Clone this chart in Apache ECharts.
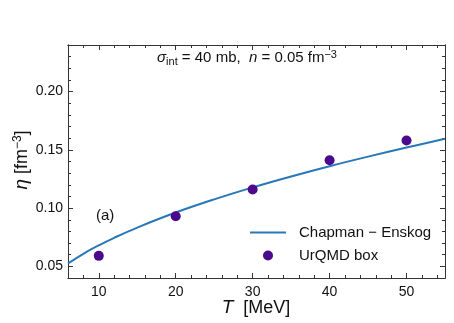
<!DOCTYPE html>
<html>
<head>
<meta charset="utf-8">
<script src="https://cdn.jsdelivr.net/npm/echarts@6/dist/echarts.min.js"></script>
<style>
  html, body { margin: 0; padding: 0; background: #fff; }
  #chart { width: 454px; height: 323px; }
</style>
</head>
<body>
<div id="chart"></div>
<script>
// Chapman-Enskog curve
const ceT = [6, 8, 10, 12, 15, 20, 25, 30, 35, 40, 45, 50, 55];
const ceEta = [0.0525, 0.0608, 0.0680, 0.0745, 0.0833, 0.0962, 0.1075, 0.1178, 0.1272, 0.1360, 0.1442, 0.1520, 0.1595];

// UrQMD box points
const urT = [10, 20, 30, 40, 50];
const urEta = [0.059, 0.093, 0.116, 0.141, 0.158];

// ticks
const xMajor = [10, 20, 30, 40, 50];
const xMinor = [8, 12, 14, 16, 18, 22, 24, 26, 28, 32, 34, 36, 38, 42, 44, 46, 48, 52, 54];
const yMajor = [0.05, 0.10, 0.15, 0.20];
const yMinor = [0.04, 0.06, 0.07, 0.08, 0.09, 0.11, 0.12, 0.13, 0.14, 0.16, 0.17, 0.18, 0.19, 0.21, 0.22, 0.23, 0.24];

const FONT = "Liberation Sans";
const AX = "#333";

const chart = echarts.init(document.getElementById('chart'));

const mkX = (pos, ticks, len, labels) => ({
    type: 'value', position: pos, min: 6, max: 55,
    axisLine: { show: true, onZero: false, lineStyle: { color: AX, width: 1 } },
    axisTick: { show: true, inside: true, length: len, customValues: ticks, lineStyle: { color: AX } },
    axisLabel: labels
        ? { show: true, customValues: ticks, color: '#111', fontFamily: FONT, fontSize: 14, margin: 7 }
        : { show: false },
    splitLine: { show: false }
});

const mkY = (pos, ticks, len, labels) => ({
    type: 'value', position: pos, min: 0.04, max: 0.24,
    axisLine: { show: true, onZero: false, lineStyle: { color: AX, width: 1 } },
    axisTick: { show: true, inside: true, length: len, customValues: ticks, lineStyle: { color: AX } },
    axisLabel: labels
        ? { show: true, customValues: ticks, color: '#111', fontFamily: FONT, fontSize: 14, margin: 5,
            formatter: v => v.toFixed(2) }
        : { show: false },
    splitLine: { show: false }
});

const option = {
    animation: false,
    backgroundColor: '#fff',
    grid: { left: 68, right: 9, top: 45, bottom: 45 },
    xAxis: [
        mkX('bottom', xMajor, 5, true),
        mkX('bottom', xMinor, 3, false),
        mkX('top', xMajor, 5, false),
        mkX('top', xMinor, 3, false)
    ],
    yAxis: [
        mkY('left', yMajor, 5, true),
        mkY('left', yMinor, 3, false),
        mkY('right', yMajor, 5, false),
        mkY('right', yMinor, 3, false)
    ],
    legend: {
        left: 245, top: 220, orient: 'vertical',
        itemWidth: 36, itemHeight: 10, itemGap: 8,
        textStyle: { fontFamily: FONT, fontSize: 15, color: '#111', padding: [0, 0, 0, 8] },
        data: [
            { name: 'Chapman \u2212 Enskog', icon: 'path://M0,0H36V2H0Z' },
            { name: 'UrQMD box', icon: 'circle' }
        ]
    },
    graphic: [
        {
            type: 'text', x: 247, y: 58,
            style: {
                text: '{i|\u03c3}{sub|int} = 40 mb,  {i|n} = 0.05 fm{sup|\u22123}',
                fontFamily: FONT, fontSize: 15, fill: '#111', align: 'center', verticalAlign: 'middle',
                rich: {
                    i: { fontStyle: 'italic', fontSize: 15, fontFamily: FONT },
                    sub: { fontSize: 11, verticalAlign: 'bottom', padding: [7, 0, 0, 0], fontFamily: FONT },
                    sup: { fontSize: 11, verticalAlign: 'top', padding: [0, 0, 7, 0], fontFamily: FONT }
                }
            }
        },
        {
            type: 'text', left: 96, top: 208,
            style: { text: '(a)', fontFamily: FONT, fontSize: 15, fill: '#111' }
        },
        {
            type: 'text', x: 22, y: 160, rotation: Math.PI / 2,
            style: {
                text: '{i|\u03b7} [fm{sup|\u22123}]',
                fontFamily: FONT, fontSize: 18, fill: '#111', align: 'center', verticalAlign: 'middle',
                rich: {
                    i: { fontStyle: 'italic', fontSize: 19, fontFamily: FONT },
                    sup: { fontSize: 12, verticalAlign: 'top', padding: [0, 0, 8, 0], fontFamily: FONT }
                }
            }
        },
        {
            type: 'text', x: 256, y: 308,
            style: {
                text: '{i|T}  [MeV]',
                fontFamily: FONT, fontSize: 18, fill: '#111', align: 'center', verticalAlign: 'middle',
                rich: { i: { fontStyle: 'italic', fontSize: 19, fontFamily: FONT } }
            }
        }
    ],
    series: [
        {
            name: 'Chapman \u2212 Enskog',
            type: 'line',
            smooth: 0.4,
            symbol: 'none',
            data: ceT.map((t, i) => [t, ceEta[i]]),
            lineStyle: { color: '#2878b8', width: 2 },
            itemStyle: { color: '#2878b8' },
            z: 2
        },
        {
            name: 'UrQMD box',
            type: 'scatter',
            symbol: 'circle',
            symbolSize: 10,
            data: urT.map((t, i) => [t, urEta[i]]),
            itemStyle: { color: '#4b0a8c', opacity: 1 },
            z: 3
        }
    ]
};

chart.setOption(option);
</script>
</body>
</html>
